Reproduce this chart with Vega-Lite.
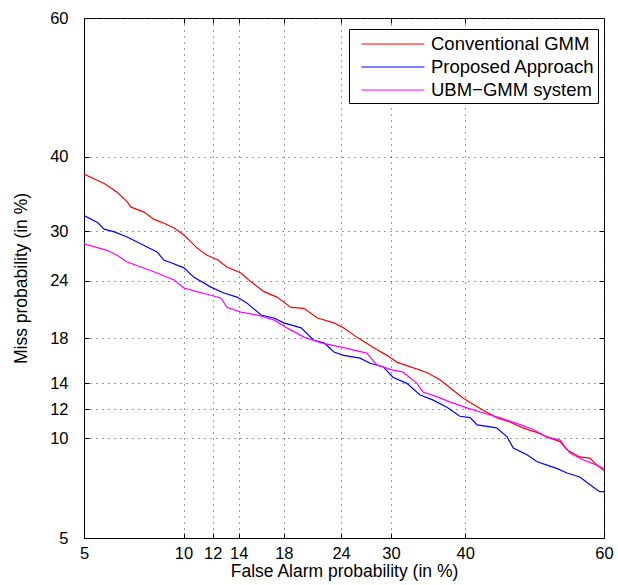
{
 "$schema": "https://vega.github.io/schema/vega-lite/v6.json",
 "width": 520, "height": 520,
 "autosize": {"type": "none"},
 "padding": {"left": 84, "top": 18, "right": 14, "bottom": 47},
 "background": "white",
 "config": {
  "view": {"stroke": "black", "strokeWidth": 1},
  "axis": {"labelFont": "Liberation Sans", "labelFontSize": 16.5, "labelColor": "black", "titleFont": "Liberation Sans", "titleFontSize": 17.5, "titleFontWeight": "normal", "titleColor": "black", "domainColor": "black", "tickColor": "black", "tickSize": -5, "gridColor": "#333333", "gridDash": [1, 5], "gridOpacity": 1, "gridWidth": 1, "labelFlush": false, "labelOverlap": false, "labelBound": false}
 },
 "data": {"values": [
  {"system":"Conventional GMM","fa":5.0,"miss":37.6},{"system":"Conventional GMM","fa":5.81,"miss":36.3},{"system":"Conventional GMM","fa":6.38,"miss":35.1},{"system":"Conventional GMM","fa":6.85,"miss":33.8},{"system":"Conventional GMM","fa":7.04,"miss":33.1},{"system":"Conventional GMM","fa":7.7,"miss":32.45},{"system":"Conventional GMM","fa":8.24,"miss":31.5},{"system":"Conventional GMM","fa":8.81,"miss":31.0},{"system":"Conventional GMM","fa":9.41,"miss":30.4},{"system":"Conventional GMM","fa":10.03,"miss":29.5},{"system":"Conventional GMM","fa":10.89,"miss":27.9},{"system":"Conventional GMM","fa":11.59,"miss":27.0},{"system":"Conventional GMM","fa":12.32,"miss":26.5},{"system":"Conventional GMM","fa":13.07,"miss":25.6},{"system":"Conventional GMM","fa":14.19,"miss":24.9},{"system":"Conventional GMM","fa":15.02,"miss":23.9},{"system":"Conventional GMM","fa":16.16,"miss":22.8},{"system":"Conventional GMM","fa":17.35,"miss":22.2},{"system":"Conventional GMM","fa":18.69,"miss":21.1},{"system":"Conventional GMM","fa":19.99,"miss":21.0},{"system":"Conventional GMM","fa":21.4,"miss":20.0},{"system":"Conventional GMM","fa":23.2,"miss":19.5},{"system":"Conventional GMM","fa":24.3,"miss":19.0},{"system":"Conventional GMM","fa":25.8,"miss":18.1},{"system":"Conventional GMM","fa":27.75,"miss":17.15},{"system":"Conventional GMM","fa":29.5,"miss":16.4},{"system":"Conventional GMM","fa":30.75,"miss":15.8},{"system":"Conventional GMM","fa":32.45,"miss":15.4},{"system":"Conventional GMM","fa":34.7,"miss":14.9},{"system":"Conventional GMM","fa":36.5,"miss":14.3},{"system":"Conventional GMM","fa":38.3,"miss":13.45},{"system":"Conventional GMM","fa":39.7,"miss":12.85},{"system":"Conventional GMM","fa":40.7,"miss":12.5},{"system":"Conventional GMM","fa":42.5,"miss":11.95},{"system":"Conventional GMM","fa":44.5,"miss":11.4},{"system":"Conventional GMM","fa":46.4,"miss":11.1},{"system":"Conventional GMM","fa":48.3,"miss":10.7},{"system":"Conventional GMM","fa":50.3,"miss":10.4},{"system":"Conventional GMM","fa":51.8,"miss":10.1},{"system":"Conventional GMM","fa":53.7,"miss":9.8},{"system":"Conventional GMM","fa":54.7,"miss":9.3},{"system":"Conventional GMM","fa":56.55,"miss":8.87},{"system":"Conventional GMM","fa":58.0,"miss":8.8},{"system":"Conventional GMM","fa":59.0,"miss":8.4},{"system":"Conventional GMM","fa":60.0,"miss":8.1},
  {"system":"Proposed Approach","fa":5.0,"miss":32.0},{"system":"Proposed Approach","fa":5.53,"miss":31.1},{"system":"Proposed Approach","fa":5.81,"miss":30.25},{"system":"Proposed Approach","fa":6.25,"miss":29.9},{"system":"Proposed Approach","fa":6.85,"miss":29.25},{"system":"Proposed Approach","fa":7.37,"miss":28.6},{"system":"Proposed Approach","fa":7.86,"miss":28.0},{"system":"Proposed Approach","fa":8.41,"miss":27.4},{"system":"Proposed Approach","fa":8.81,"miss":26.4},{"system":"Proposed Approach","fa":9.23,"miss":26.1},{"system":"Proposed Approach","fa":10.03,"miss":25.5},{"system":"Proposed Approach","fa":10.69,"miss":24.4},{"system":"Proposed Approach","fa":11.87,"miss":23.3},{"system":"Proposed Approach","fa":12.84,"miss":22.65},{"system":"Proposed Approach","fa":13.87,"miss":22.2},{"system":"Proposed Approach","fa":14.7,"miss":21.55},{"system":"Proposed Approach","fa":15.9,"miss":20.3},{"system":"Proposed Approach","fa":17.07,"miss":20.0},{"system":"Proposed Approach","fa":18.0,"miss":19.5},{"system":"Proposed Approach","fa":19.7,"miss":19.0},{"system":"Proposed Approach","fa":21.0,"miss":17.8},{"system":"Proposed Approach","fa":22.1,"miss":17.55},{"system":"Proposed Approach","fa":23.2,"miss":16.7},{"system":"Proposed Approach","fa":24.3,"miss":16.4},{"system":"Proposed Approach","fa":26.2,"miss":16.15},{"system":"Proposed Approach","fa":27.4,"miss":15.7},{"system":"Proposed Approach","fa":29.0,"miss":15.4},{"system":"Proposed Approach","fa":30.25,"miss":14.5},{"system":"Proposed Approach","fa":32.05,"miss":14.0},{"system":"Proposed Approach","fa":33.8,"miss":13.07},{"system":"Proposed Approach","fa":35.5,"miss":12.7},{"system":"Proposed Approach","fa":37.45,"miss":12.15},{"system":"Proposed Approach","fa":39.25,"miss":11.5},{"system":"Proposed Approach","fa":40.7,"miss":11.4},{"system":"Proposed Approach","fa":41.7,"miss":10.9},{"system":"Proposed Approach","fa":44.5,"miss":10.7},{"system":"Proposed Approach","fa":46.0,"miss":10.1},{"system":"Proposed Approach","fa":46.9,"miss":9.4},{"system":"Proposed Approach","fa":48.9,"miss":9.0},{"system":"Proposed Approach","fa":50.3,"miss":8.6},{"system":"Proposed Approach","fa":51.8,"miss":8.4},{"system":"Proposed Approach","fa":53.3,"miss":8.2},{"system":"Proposed Approach","fa":54.7,"miss":7.96},{"system":"Proposed Approach","fa":56.55,"miss":7.75},{"system":"Proposed Approach","fa":58.4,"miss":7.25},{"system":"Proposed Approach","fa":59.4,"miss":7.0},{"system":"Proposed Approach","fa":60.0,"miss":7.0},
  {"system":"UBM−GMM system","fa":5.0,"miss":28.4},{"system":"UBM−GMM system","fa":5.93,"miss":27.6},{"system":"UBM−GMM system","fa":6.38,"miss":27.0},{"system":"UBM−GMM system","fa":6.85,"miss":26.2},{"system":"UBM−GMM system","fa":7.54,"miss":25.6},{"system":"UBM−GMM system","fa":8.41,"miss":24.9},{"system":"UBM−GMM system","fa":9.41,"miss":24.1},{"system":"UBM−GMM system","fa":10.03,"miss":23.2},{"system":"UBM−GMM system","fa":10.89,"miss":22.8},{"system":"UBM−GMM system","fa":11.87,"miss":22.4},{"system":"UBM−GMM system","fa":12.6,"miss":22.1},{"system":"UBM−GMM system","fa":13.07,"miss":21.1},{"system":"UBM−GMM system","fa":14.19,"miss":20.6},{"system":"UBM−GMM system","fa":15.55,"miss":20.3},{"system":"UBM−GMM system","fa":17.07,"miss":19.8},{"system":"UBM−GMM system","fa":18.3,"miss":19.0},{"system":"UBM−GMM system","fa":20.0,"miss":18.1},{"system":"UBM−GMM system","fa":21.8,"miss":17.55},{"system":"UBM−GMM system","fa":24.3,"miss":17.1},{"system":"UBM−GMM system","fa":27.0,"miss":16.6},{"system":"UBM−GMM system","fa":28.25,"miss":15.55},{"system":"UBM−GMM system","fa":30.25,"miss":15.1},{"system":"UBM−GMM system","fa":31.5,"miss":14.95},{"system":"UBM−GMM system","fa":33.4,"miss":14.0},{"system":"UBM−GMM system","fa":34.2,"miss":13.3},{"system":"UBM−GMM system","fa":36.05,"miss":12.95},{"system":"UBM−GMM system","fa":37.85,"miss":12.55},{"system":"UBM−GMM system","fa":40.25,"miss":12.1},{"system":"UBM−GMM system","fa":42.5,"miss":11.75},{"system":"UBM−GMM system","fa":44.9,"miss":11.4},{"system":"UBM−GMM system","fa":47.4,"miss":11.0},{"system":"UBM−GMM system","fa":49.75,"miss":10.6},{"system":"UBM−GMM system","fa":51.8,"miss":10.1},{"system":"UBM−GMM system","fa":53.7,"miss":9.9},{"system":"UBM−GMM system","fa":55.15,"miss":9.1},{"system":"UBM−GMM system","fa":57.0,"miss":8.7},{"system":"UBM−GMM system","fa":59.0,"miss":8.4},{"system":"UBM−GMM system","fa":60.0,"miss":8.2}
 ]},
 "transform": [
  {"calculate": "quantileNormal(datum.fa / 100)", "as": "xz"},
  {"calculate": "quantileNormal(datum.miss / 100)", "as": "yz"}
 ],
 "layer": [
  {
   "mark": {"type": "line", "strokeOpacity": 0, "clip": true},
   "encoding": {
    "x": {"field": "xz", "type": "quantitative",
     "scale": {"domain": [-1.644854, 0.253347], "nice": false, "zero": false},
     "axis": {"orient": "top", "title": null, "labels": false, "grid": false, "domain": false, "values": [-1.281552, -1.174987, -1.080319, -0.915365, -0.706303, -0.524401, -0.253347]}},
    "y": {"field": "yz", "type": "quantitative",
     "scale": {"domain": [-1.644854, 0.253347], "nice": false, "zero": false},
     "axis": {"orient": "right", "title": null, "labels": false, "grid": false, "domain": false, "values": [-1.281552, -1.174987, -1.080319, -0.915365, -0.706303, -0.524401, -0.253347]}},
    "detail": {"field": "system", "type": "nominal"},
    "order": {"field": "fa", "type": "quantitative"}
   }
  },
  {
   "mark": {"type": "line", "strokeWidth": 1.2, "clip": true},
   "encoding": {
    "x": {"field": "xz", "type": "quantitative",
     "scale": {"domain": [-1.644854, 0.253347], "nice": false, "zero": false},
     "axis": {"orient": "bottom", "title": "False Alarm probability (in %)", "values": [-1.644854, -1.281552, -1.174987, -1.080319, -0.915365, -0.706303, -0.524401, -0.253347, 0.253347], "labelExpr": "format(round(cumulativeNormal(datum.value) * 100), 'd')", "grid": true, "labelPadding": 12, "titlePadding": 1}},
    "y": {"field": "yz", "type": "quantitative",
     "scale": {"domain": [-1.644854, 0.253347], "nice": false, "zero": false},
     "axis": {"orient": "left", "title": "Miss probability (in %)", "values": [-1.644854, -1.281552, -1.174987, -1.080319, -0.915365, -0.706303, -0.524401, -0.253347, 0.253347], "labelExpr": "format(round(cumulativeNormal(datum.value) * 100), 'd')", "grid": true, "labelPadding": 21, "titlePadding": 19}},
    "color": {"field": "system", "type": "nominal",
     "scale": {"domain": ["Conventional GMM", "Proposed Approach", "UBM−GMM system"], "range": ["#ff0000", "#0000ff", "#ff00ff"]},
     "legend": {"orient": "none", "legendX": 265, "legendY": 11, "title": null, "symbolType": "M-0.24,0H5.49", "symbolSize": 484, "symbolStrokeWidth": 1.2, "labelFont": "Liberation Sans", "labelFontSize": 18.5, "labelColor": "black", "labelOffset": 55, "labelLimit": 300, "strokeColor": "black", "fillColor": "white", "padding": 3, "rowPadding": 1}},
    "order": {"field": "fa", "type": "quantitative"}
   }
  }
 ]
}
